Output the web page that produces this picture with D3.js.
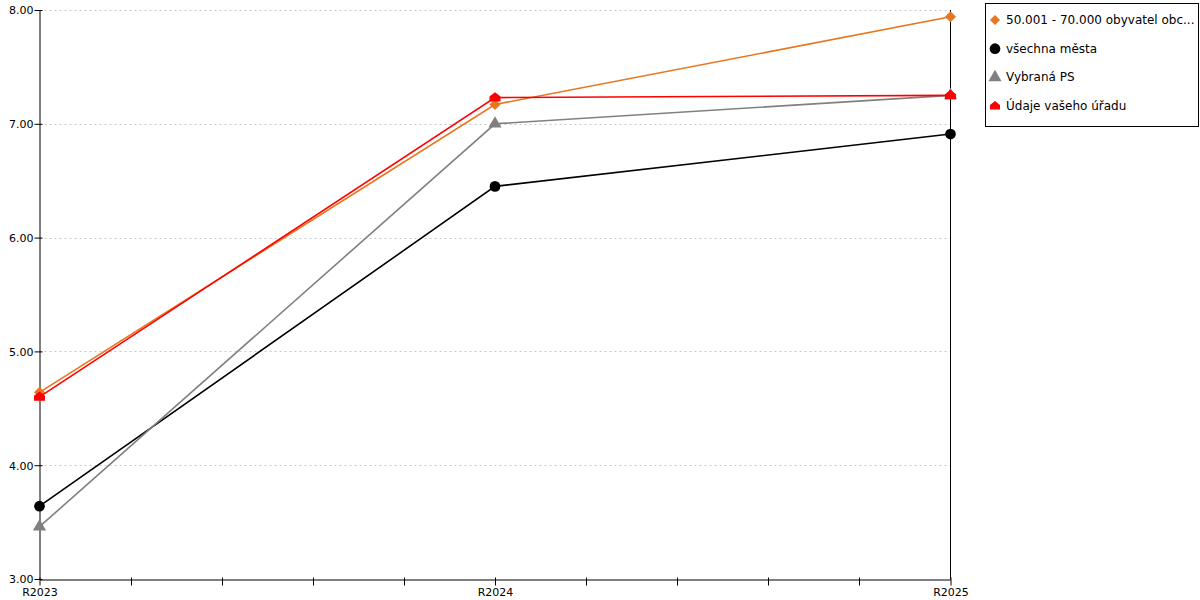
<!DOCTYPE html>
<html>
<head>
<meta charset="utf-8">
<script src="https://cdn.jsdelivr.net/npm/d3@7/dist/d3.min.js"></script>
<style>
  body { margin: 0; background: #fff; }
  svg { font-family: "DejaVu Sans", Verdana, sans-serif; }
</style>
</head>
<body>
<svg width="1200" height="600"></svg>
<script>
// data
const categories = ['R2023', 'R2024', 'R2025'];
const yTicks = [3, 4, 5, 6, 7, 8];

const orangeValues = [4.64, 7.17, 7.94];
const blackValues = [3.64, 6.45, 6.91];
const grayValues = [3.46, 7.00, 7.25];
const redValues = [4.60, 7.23, 7.25];

const seriesNames = ['50.001 - 70.000 obyvatel obc...', 'všechna města', 'Vybraná PS', 'Údaje vašeho úřadu'];
const seriesColors = ['#e8761e', '#000000', '#808080', '#ff0000'];
const seriesShapes = ['diamond', 'circle', 'triangle', 'house'];
const seriesValues = [orangeValues, blackValues, grayValues, redValues];

const svg = d3.select('svg');

const plotLeft = 39.5, plotRight = 950.5, plotTop = 10, plotBottom = 579;

const x = d3.scalePoint()
        .domain(categories)
        .range([plotLeft, plotRight]);

const y = d3.scaleLinear()
        .domain([3, 8])
        .range([plotBottom, plotTop]);

// grid
svg.append('g')
        .selectAll('line')
        .data(yTicks.filter(d => d > 3))
        .join('line')
        .attr('x1', plotLeft)
        .attr('x2', plotRight)
        .attr('y1', d => Math.round(y(d)) + 0.5)
        .attr('y2', d => Math.round(y(d)) + 0.5)
        .attr('stroke', '#c8c8c8')
        .attr('stroke-dasharray', '2,3');

// right border line
svg.append('line')
        .attr('x1', plotRight).attr('x2', plotRight)
        .attr('y1', plotTop).attr('y2', plotBottom)
        .attr('stroke', '#000');

// y axis
const yAxis = svg.append('g')
        .attr('transform', `translate(${plotLeft},0)`)
        .call(d3.axisLeft(y).tickValues(yTicks).tickFormat(d3.format('.2f')).tickSize(5).tickSizeOuter(0));
yAxis.selectAll('.tick line').attr('x1', -5).attr('x2', 3).attr('stroke', '#000');
yAxis.selectAll('.tick text').attr('x', -6).attr('dy', '0.35em')
        .style('font-size', '11px').style('font-family', '"DejaVu Sans", sans-serif');

// x axis, with minor ticks between categories
const minorScale = d3.scaleLinear().domain([0, 10]).range([plotLeft, plotRight]);
const xAxis = svg.append('g')
        .attr('transform', `translate(0,${plotBottom + 0.5})`)
        .call(d3.axisBottom(x).tickSize(7).tickSizeOuter(0));
xAxis.selectAll('.tick line').attr('y1', -2).attr('y2', 6);
xAxis.selectAll('.tick text').attr('y', 9)
        .style('font-size', '11px').style('font-family', '"DejaVu Sans", sans-serif');
xAxis.selectAll('.minor')
        .data(d3.range(1, 10).filter(i => i !== 5))
        .join('line')
        .attr('class', 'minor')
        .attr('x1', i => Math.round(minorScale(i)) + 0.5)
        .attr('x2', i => Math.round(minorScale(i)) + 0.5)
        .attr('y1', -2).attr('y2', 6)
        .attr('stroke', '#000');
xAxis.select('.domain').attr('stroke', '#000');

function markerPath(shape, size) {
        const h = size;
        if (shape === 'house') {
                return `M0,${-h} L${h},${-h * 0.2} L${h},${h * 0.7} L${-h},${h * 0.7} L${-h},${-h * 0.2} Z`;
        }
        if (shape === 'diamond') {
                return `M0,${-h} L${h},0 L0,${h} L${-h},0 Z`;
        }
        const types = { circle: d3.symbolCircle, triangle: d3.symbolTriangle };
        const areas = { circle: 90, triangle: 75 };
        return d3.symbol().type(types[shape]).size(areas[shape])();
}

const line = d3.line()
        .x((d, i) => x(categories[i]))
        .y(d => y(d));

seriesValues.forEach((vals, s) => {
        const g = svg.append('g');
        g.append('path')
                .attr('d', line(vals))
                .attr('fill', 'none')
                .attr('stroke', seriesColors[s])
                .attr('stroke-width', 1.6);
        g.selectAll('path.m')
                .data(vals)
                .join('path')
                .attr('class', 'm')
                .attr('transform', (d, i) => `translate(${x(categories[i])},${y(d)})`)
                .attr('d', markerPath(seriesShapes[s], 5.5))
                .attr('fill', seriesColors[s]);
});

// legend
const legend = svg.append('g');
legend.append('rect')
        .attr('x', 985.5).attr('y', 3.5)
        .attr('width', 213).attr('height', 123)
        .attr('fill', '#fff')
        .attr('stroke', '#000');
seriesNames.forEach((name, s) => {
        const ly = 20 + s * 28.7;
        legend.append('path')
                .attr('transform', `translate(995,${ly})`)
                .attr('d', markerPath(seriesShapes[s], 5))
                .attr('fill', seriesColors[s]);
        legend.append('text')
                .attr('x', 1006)
                .attr('y', ly + 4)
                .style('font-size', '12px')
                .text(name);
});
</script>
</body>
</html>
